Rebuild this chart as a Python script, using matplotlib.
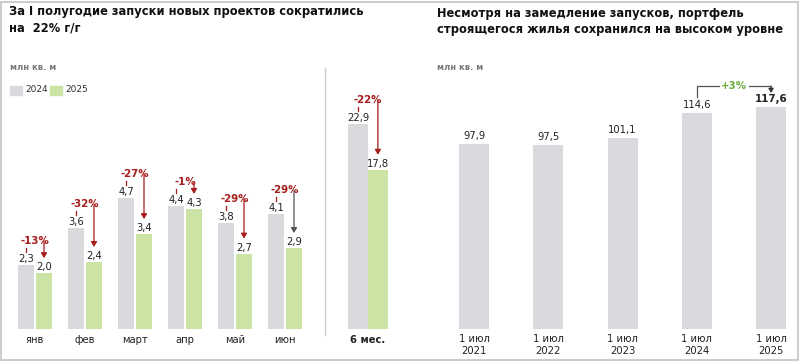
import matplotlib
matplotlib.use("Agg")
import matplotlib.pyplot as plt
from matplotlib.transforms import offset_copy
from matplotlib.patches import Rectangle, FancyArrowPatch
from matplotlib.lines import Line2D

# ---- data ----
months = ["янв", "фев", "март", "апр", "май", "июн"]
v2024 = [2.3, 3.6, 4.7, 4.4, 3.8, 4.1]
v2025 = [2.0, 2.4, 3.4, 4.3, 2.7, 2.9]
pct_month = ["-13%", "-32%", "-27%", "-1%", "-29%", "-29%"]
half_label = "6 мес."
half2024 = [22.9]
half2025 = [17.8]
half_pct = "-22%"
years = ["1 июл\n2021", "1 июл\n2022", "1 июл\n2023", "1 июл\n2024", "1 июл\n2025"]
stock = [97.9, 97.5, 101.1, 114.6, 117.6]
stock_pct = "+3%"

GRAY = "#d9dadd"
GREEN = "#cbe4a6"
RED = "#a81c1c"
TXT = "#222222"
W, H = 800, 361

plt.rcParams['font.family'] = ['DejaVu Sans']
fig = plt.figure(figsize=(8, 3.61), dpi=100)

def fx(px):
    return px / W

def fy(py):
    return 1 - py / H

def make_ax(x0, x1, ytop, ybot):
    ax = fig.add_axes([fx(x0), fy(ybot), fx(x1 - x0), (ybot - ytop) / H])
    ax.set_axis_off()
    return ax

def fmt(v):
    return f"{v:.1f}".replace(".", ",")

def off(ax, dy, dx=0):
    return offset_copy(ax.transData, fig=fig, x=dx, y=dy, units='dots')

def annotate_group(ax, xc, dx, a, b, pct, arrow_color):
    xg, xn = xc - dx, xc + dx
    ax.text(xg, a, fmt(a), transform=off(ax, 6), ha='center', va='center', fontsize=7.2, color=TXT)
    ax.text(xn, b, fmt(b), transform=off(ax, 6), ha='center', va='center', fontsize=7.2, color=TXT)
    p0 = off(ax, 13).transform((xg, a))
    p1 = off(ax, 17).transform((xg, a))
    fig.add_artist(Line2D([p0[0] / W, p1[0] / W], [p0[1] / H, p1[1] / H], color=RED, lw=0.9))
    ax.text(xc, a, pct, transform=off(ax, 24), ha='center', va='center', fontsize=7.4,
            fontweight='bold', color=RED)
    s = off(ax, 24).transform((xn, a))
    e = off(ax, 15).transform((xn, b))
    fig.add_artist(FancyArrowPatch(
        (s[0] / W, s[1] / H), (e[0] / W, e[1] / H), transform=fig.transFigure,
        arrowstyle='-|>,head_length=3,head_width=1.8', color=arrow_color, lw=0.9,
        shrinkA=0, shrinkB=0))

# ---- left panel: months ----
ax1 = make_ax(10, 310, 100, 329)
ax1.set_xlim(-0.5, 5.5)
ax1.set_ylim(0, 8.2)
x = list(range(len(months)))
dx1 = 0.18
ax1.bar([i - dx1 for i in x], v2024, width=0.32, color=GRAY)
ax1.bar([i + dx1 for i in x], v2025, width=0.32, color=GREEN)
for i in x:
    col = "#555555" if i == 5 else RED
    annotate_group(ax1, i, dx1, v2024[i], v2025[i], pct_month[i], col)
    ax1.text(i, 0, months[i], transform=off(ax1, -11), ha='center', va='center', fontsize=7.2, color=TXT)

# ---- middle panel: 6 months ----
ax2 = make_ax(330, 406, 100, 329)
ax2.set_xlim(-0.5, 0.5)
ax2.set_ylim(0, 25.6)
dx2 = 0.13
ax2.bar([-dx2], half2024, width=0.26, color=GRAY)
ax2.bar([dx2], half2025, width=0.26, color=GREEN)
annotate_group(ax2, 0, dx2, half2024[0], half2025[0], half_pct, RED)
ax2.text(0, 0, half_label, transform=off(ax2, -11), ha='center', va='center', fontsize=7.2,
         fontweight='bold', color=TXT)

# ---- right panel: stock ----
ax3 = make_ax(437, 800, 100, 329)
ax3.set_xlim(-0.5, 4.39)
ax3.set_ylim(0, 121.3)
xs = list(range(len(stock)))
ax3.bar(xs, stock, width=0.404, color=GRAY)
for i in xs:
    bold = (i == len(stock) - 1)
    ax3.text(i, stock[i], fmt(stock[i]), transform=off(ax3, 8), ha='center', va='center',
             fontsize=7.4 if bold else 7.2, fontweight='bold' if bold else 'normal', color=TXT)
    ax3.text(i, 0, years[i], transform=off(ax3, -16), ha='center', va='center', fontsize=7.2,
             color=TXT, linespacing=1.15)
# +3% bracket
pa = off(ax3, 16).transform((3, stock[3]))
py_top = fy(86) * H
pm1 = ax3.transData.transform((3.3, 0))[0]
pm2 = ax3.transData.transform((3.7, 0))[0]
pb = ax3.transData.transform((4, 0))[0]
pb_end = off(ax3, 14).transform((4, stock[4]))[1]
fig.add_artist(Line2D([pa[0] / W, pa[0] / W, pm1 / W], [pa[1] / H, py_top / H, py_top / H],
                      color="#555555", lw=0.9))
fig.add_artist(Line2D([pm2 / W, pb / W], [py_top / H, py_top / H], color="#555555", lw=0.9))
fig.add_artist(FancyArrowPatch(
    (pb / W, py_top / H), (pb / W, pb_end / H), transform=fig.transFigure,
    arrowstyle='-|>,head_length=2.5,head_width=1.5', color="#333333", lw=0.9,
    shrinkA=0, shrinkB=0))
fig.text((pm1 + pm2) / 2 / W, py_top / H, stock_pct, ha='center', va='center', fontsize=7.4,
         fontweight='bold', color="#6cab3c")

# ---- titles and labels ----
TS = 8.3
fig.text(fx(9), fy(12), "За I полугодие запуски новых проектов сократились", ha='left', va='center',
         fontsize=TS, fontweight='bold', color="#111111")
fig.text(fx(9), fy(28), "на  22% г/г", ha='left', va='center', fontsize=TS, fontweight='bold', color="#111111")
fig.text(fx(437), fy(14), "Несмотря на замедление запусков, портфель", ha='left', va='center',
         fontsize=TS, fontweight='bold', color="#111111")
fig.text(fx(437), fy(29), "строящегося жилья сохранился на высоком уровне", ha='left', va='center',
         fontsize=TS, fontweight='bold', color="#111111")
fig.text(fx(10), fy(67), "млн кв. м", ha='left', va='center', fontsize=6, fontweight='bold', color="#7a7a7a")
fig.text(fx(437), fy(67), "млн кв. м", ha='left', va='center', fontsize=6, fontweight='bold', color="#7a7a7a")

# legend
fig.add_artist(Rectangle((fx(10), fy(95)), fx(12), 9 / H, color=GRAY, transform=fig.transFigure))
fig.text(fx(25), fy(90), "2024", ha='left', va='center', fontsize=6.5, color="#333333")
fig.add_artist(Rectangle((fx(50), fy(95)), fx(12), 9 / H, color=GREEN, transform=fig.transFigure))
fig.text(fx(65), fy(90), "2025", ha='left', va='center', fontsize=6.5, color="#333333")

# separator
fig.add_artist(Line2D([fx(325), fx(325)], [fy(68), fy(335)], color="#cfcfcf", lw=1))
# frame
fig.add_artist(Rectangle((0.5 / W, 1.5 / H), (W - 3) / W, (H - 3) / H, fill=False,
                         edgecolor="#c4c4c4", lw=1.2, transform=fig.transFigure))

fig.savefig("out.png", dpi=100)
